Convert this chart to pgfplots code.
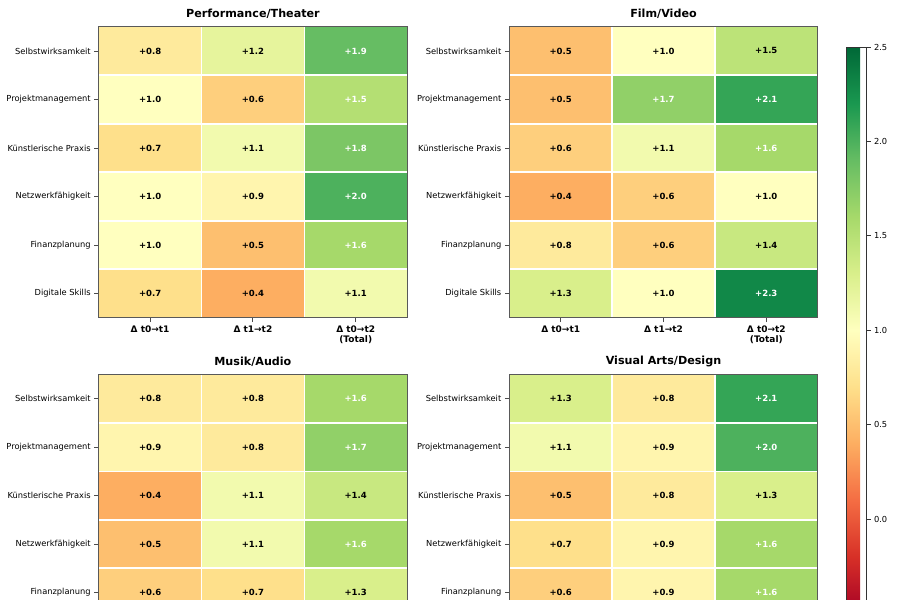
\documentclass[border=0pt]{standalone}
\usepackage{fontspec}
\setmainfont{DejaVu Sans}
\usepackage{pgfplots}
\pgfplotsset{compat=1.18}
\usepackage{pgfplotstable}

\pgfplotsset{
 colormap={RdYlGn}{rgb255(0)=(165,0,38) rgb255(1)=(215,48,39) rgb255(2)=(244,109,67) rgb255(3)=(253,174,97) rgb255(4)=(254,224,139) rgb255(5)=(255,255,191) rgb255(6)=(217,239,139) rgb255(7)=(166,217,106) rgb255(8)=(102,189,99) rgb255(9)=(26,152,80) rgb255(10)=(0,104,55)},
 hm/.style={
   scale only axis, width=308.4pt, height=291pt,
   xmin=-0.5, xmax=2.5, ymin=-0.5, ymax=5.5, y dir=reverse,
   enlargelimits=false,
   colormap name=RdYlGn, point meta min=-0.5, point meta max=2.5,
   xtick={0,1,2}, ytick={0,1,2,3,4,5},
   xticklabels={{Δ t0→t1},{Δ t1→t2},{Δ t0→t2\\(Total)}},
   yticklabels={Selbstwirksamkeit,Projektmanagement,Künstlerische Praxis,Netzwerkfähigkeit,Finanzplanung,Digitale Skills},
   minor xtick={0.5,1.5}, minor ytick={0.5,1.5,2.5,3.5,4.5},
   xminorgrids=true, yminorgrids=true,
   minor grid style={white, line width=1.6pt},
   minor tick length=0pt,
   axis on top,
   tick align=outside, tick pos=left,
   major tick length=4.5pt,
   major tick style={black!70, line width=0.9pt},
   axis line style={black!65, line width=0.9pt},
   yticklabel style={font=\fontsize{8.3}{10}\selectfont},
   xticklabel style={font=\bfseries\fontsize{9}{10.3}\selectfont, align=center},
   title style={font=\bfseries\fontsize{11.15}{13}\selectfont, at={(0.5,1)}, anchor=center, yshift=6.5pt},
 },
 cells/.style={matrix plot*, mesh/cols=3, point meta=explicit},
 labs/.style={sharp plot, draw=none, mark=none, point meta=explicit, mesh/check=false,
   nodes near coords={\pgfmathprintnumber[fixed,fixed zerofill,precision=1,showpos,assume math mode=true]{\pgfplotspointmeta}},
   every node near coord/.append style={anchor=center, font=\bfseries\fontsize{8.5}{10}\selectfont, text=#1}},
 labs/.default=black,
}

% cell values: x = period column, y = competence row
\pgfplotstableread{
x y v
0 0 0.8
1 0 1.2
2 0 1.9
0 1 1.0
1 1 0.6
2 1 1.52
0 2 0.7
1 2 1.1
2 2 1.8
0 3 1.0
1 3 0.9
2 3 2.0
0 4 1.0
1 4 0.5
2 4 1.6
0 5 0.7
1 5 0.4
2 5 1.1
}\perf

\pgfplotstableread{
x y v
0 0 0.5
1 0 1.0
2 0 1.47
0 1 0.5
1 1 1.7
2 1 2.1
0 2 0.6
1 2 1.1
2 2 1.6
0 3 0.4
1 3 0.6
2 3 1.0
0 4 0.8
1 4 0.6
2 4 1.4
0 5 1.3
1 5 1.0
2 5 2.3
}\film

\pgfplotstableread{
x y v
0 0 0.8
1 0 0.8
2 0 1.6
0 1 0.9
1 1 0.8
2 1 1.7
0 2 0.4
1 2 1.1
2 2 1.4
0 3 0.5
1 3 1.1
2 3 1.6
0 4 0.6
1 4 0.7
2 4 1.3
0 5 0.8
1 5 0.9
2 5 1.7
}\musik

\pgfplotstableread{
x y v
0 0 1.3
1 0 0.8
2 0 2.1
0 1 1.1
1 1 0.9
2 1 2.0
0 2 0.5
1 2 0.8
2 2 1.3
0 3 0.7
1 3 0.9
2 3 1.6
0 4 0.6
1 4 0.9
2 4 1.6
0 5 1.2
1 5 0.8
2 5 2.0
}\visual

\begin{document}
\begin{tikzpicture}
\clip (0pt,0pt) rectangle (900pt,600pt);

\begin{axis}[hm, at={(98.7pt,282.3pt)}, anchor=south west, title={Performance/Theater}]
\addplot[cells] table[x=x,y=y,meta=v]{\perf};
\addplot[labs] coordinates {(0,0)[0.8] (1,0)[1.2] (0,1)[1.0] (1,1)[0.6] (0,2)[0.7] (1,2)[1.1] (0,3)[1.0] (1,3)[0.9] (0,4)[1.0] (1,4)[0.5] (0,5)[0.7] (1,5)[0.4] (2,5)[1.1]};
\addplot[labs=white] coordinates {(2,0)[1.9] (2,1)[1.5] (2,2)[1.8] (2,3)[2.0] (2,4)[1.6]};
\end{axis}

\begin{axis}[hm, at={(509.3pt,282.3pt)}, anchor=south west, title={Film/Video},
  colorbar,
  colorbar shift/.style={xshift=0pt},
  colorbar style={at={(parent axis.north east)}, anchor=north west,
    xshift=28.3pt, yshift=-20.3pt,
    scale only axis, width=20pt, height=566.5pt,
    ytick={0,0.5,1,1.5,2,2.5}, ytick pos=right,
    yticklabel style={font=\fontsize{8.3}{10}\selectfont,
      /pgf/number format/.cd, fixed, fixed zerofill, precision=1, assume math mode=true},
    axis line style={black!80, line width=0.8pt},
    tick align=outside, major tick length=4.5pt,
    major tick style={black!80, line width=0.9pt}}]
\addplot[cells] table[x=x,y=y,meta=v]{\film};
\addplot[labs] coordinates {(0,0)[0.5] (1,0)[1.0] (2,0)[1.5] (0,1)[0.5] (0,2)[0.6] (1,2)[1.1] (0,3)[0.4] (1,3)[0.6] (2,3)[1.0] (0,4)[0.8] (1,4)[0.6] (2,4)[1.4] (0,5)[1.3] (1,5)[1.0]};
\addplot[labs=white] coordinates {(1,1)[1.7] (2,1)[2.1] (2,2)[1.6] (2,5)[2.3]};
\end{axis}

\begin{axis}[hm, at={(98.7pt,225.7pt)}, anchor=north west, title={Musik/Audio}]
\addplot[cells] table[x=x,y=y,meta=v]{\musik};
\addplot[labs] coordinates {(0,0)[0.8] (1,0)[0.8] (0,1)[0.9] (1,1)[0.8] (0,2)[0.4] (1,2)[1.1] (2,2)[1.4] (0,3)[0.5] (1,3)[1.1] (0,4)[0.6] (1,4)[0.7] (2,4)[1.3] (0,5)[0.8] (1,5)[0.9]};
\addplot[labs=white] coordinates {(2,0)[1.6] (2,1)[1.7] (2,3)[1.6] (2,5)[1.7]};
\end{axis}

\begin{axis}[hm, at={(509.3pt,225.7pt)}, anchor=north west, title={Visual Arts/Design}]
\addplot[cells] table[x=x,y=y,meta=v]{\visual};
\addplot[labs] coordinates {(0,0)[1.3] (1,0)[0.8] (0,1)[1.1] (1,1)[0.9] (0,2)[0.5] (1,2)[0.8] (2,2)[1.3] (0,3)[0.7] (1,3)[0.9] (0,4)[0.6] (1,4)[0.9] (0,5)[1.2] (1,5)[0.8]};
\addplot[labs=white] coordinates {(2,0)[2.1] (2,1)[2.0] (2,3)[1.6] (2,4)[1.6] (2,5)[2.0]};
\end{axis}
\end{tikzpicture}
\end{document}
